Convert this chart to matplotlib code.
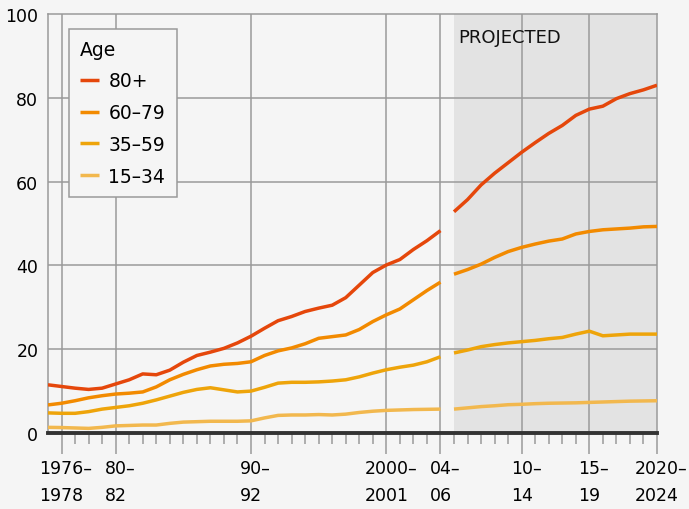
import matplotlib
matplotlib.use("Agg")
import matplotlib.pyplot as plt
from matplotlib.transforms import ScaledTranslation
from matplotlib.font_manager import FontProperties

# ---------------- data ----------------
years_hist = list(range(1975, 2005))
years_proj = list(range(2005, 2021))

age_80_hist = [11.5, 11.1, 10.7, 10.4, 10.7, 11.7, 12.7, 14.1, 13.9, 15.0,
               16.9, 18.5, 19.3, 20.2, 21.5, 23.1, 25.0, 26.8, 27.8, 29.0,
               29.8, 30.5, 32.3, 35.3, 38.3, 40.1, 41.4, 43.8, 45.9, 48.3]
age_60_hist = [6.7, 7.1, 7.7, 8.4, 8.9, 9.3, 9.5, 9.8, 11.0, 12.7,
               14.0, 15.1, 16.0, 16.4, 16.6, 17.0, 18.5, 19.6, 20.3, 21.3,
               22.6, 23.0, 23.4, 24.7, 26.6, 28.2, 29.6, 31.8, 34.0, 36.0]
age_35_hist = [4.8, 4.7, 4.7, 5.1, 5.7, 6.1, 6.5, 7.1, 7.9, 8.8,
               9.7, 10.4, 10.8, 10.3, 9.8, 10.0, 10.9, 11.9, 12.1, 12.1,
               12.2, 12.4, 12.7, 13.4, 14.3, 15.1, 15.7, 16.2, 17.0, 18.2]
age_15_hist = [1.35, 1.3, 1.2, 1.1, 1.35, 1.7, 1.8, 1.9, 1.9, 2.3,
               2.6, 2.7, 2.8, 2.8, 2.8, 2.9, 3.6, 4.2, 4.3, 4.3,
               4.4, 4.3, 4.5, 4.9, 5.2, 5.4, 5.5, 5.6, 5.65, 5.7]

age_80_proj = [52.8, 55.7, 59.2, 62.0, 64.5, 67.0, 69.3, 71.5,
               73.4, 75.8, 77.3, 78.0, 79.8, 81.0, 81.9, 83.0]
age_60_proj = [37.9, 39.0, 40.3, 41.9, 43.3, 44.3, 45.1, 45.8,
               46.3, 47.5, 48.1, 48.5, 48.7, 48.9, 49.2, 49.3]
age_35_proj = [19.1, 19.8, 20.6, 21.1, 21.5, 21.8, 22.1, 22.5,
               22.8, 23.6, 24.3, 23.2, 23.4, 23.6, 23.6, 23.6]
age_15_proj = [5.7, 6.0, 6.3, 6.5, 6.75, 6.85, 7.0, 7.1,
               7.15, 7.2, 7.3, 7.4, 7.5, 7.6, 7.65, 7.7]

series_labels = ["80+", "60\u201379", "35\u201359", "15\u201334"]
series_colors = ["#e5470b", "#f28a00", "#eea40a", "#f2b84e"]

tick_years = [1976, 1980, 1990, 2000, 2004, 2010, 2015, 2020]
tick_line1 = ["1976\u2013", "80\u2013", "90\u2013", "2000\u2013", "04\u2013", "10\u2013", "15\u2013", "2020\u2013"]
tick_line2 = ["1978", "82", "92", "2001", "06", "14", "19", "2024"]
minor_years = list(range(1976, 2020))
y_ticks = [0, 20, 40, 60, 80, 100]
proj_start, proj_end = 2005, 2020

# ---------------- figure ----------------
BG = "#f5f5f5"
GRID = "#9a9a9a"
FS = 12.5
fig = plt.figure(figsize=(6.89, 5.10), dpi=100, facecolor=BG)
ax = fig.add_axes([48/689, 1-434/510, (657-48)/689, (434-15)/510])
ax.set_facecolor(BG)
ax.set_xlim(1975, 2020)
ax.set_ylim(0, 100)

ax.axvspan(proj_start, proj_end, color="#e3e3e3", zorder=0.5, lw=0)

# grid
for yv in y_ticks[1:-1]:
    ax.axhline(yv, color=GRID, lw=1.1, zorder=1)
for xv in tick_years[:-1]:
    ax.axvline(xv, color=GRID, lw=1.1, zorder=1)

hist = [age_80_hist, age_60_hist, age_35_hist, age_15_hist]
proj = [age_80_proj, age_60_proj, age_35_proj, age_15_proj]
handles = []
for h, p, lab, col in zip(hist, proj, series_labels, series_colors):
    ln, = ax.plot(years_hist, h, color=col, lw=2.5, solid_capstyle="butt", zorder=3, label=lab)
    ax.plot(years_proj, p, color=col, lw=2.5, solid_capstyle="butt", zorder=3)
    handles.append(ln)

# spines
for s in ["left", "top", "right"]:
    ax.spines[s].set_color(GRID)
    ax.spines[s].set_linewidth(1.1)
ax.spines["bottom"].set_color("#333333")
ax.spines["bottom"].set_linewidth(2.8)
ax.spines["bottom"].set_zorder(4)

# y ticks
ax.set_yticks(y_ticks)
ax.set_yticklabels([str(v) for v in y_ticks])
ax.tick_params(axis="y", length=0, pad=7, labelsize=FS, labelcolor="black")

# x ticks
ax.set_xticks(tick_years)
ax.set_xticklabels([a + "\n" + b for a, b in zip(tick_line1, tick_line2)])
ax.set_xticks(minor_years, minor=True)
ax.tick_params(axis="x", which="major", length=15, width=1.1, color=GRID, pad=3.5,
               labelsize=FS, labelcolor="black")
ax.tick_params(axis="x", which="minor", length=8, width=1.1, color=GRID)

renderer = fig.canvas.get_renderer()
prop = FontProperties(family="DejaVu Sans", size=FS)
for lbl, l2 in zip(ax.get_xticklabels(), tick_line2):
    w2, _, _ = renderer.get_text_width_height_descent(l2, prop, ismath=False)
    lbl.set_horizontalalignment("left")
    lbl.set_multialignment("left")
    lbl.set_linespacing(1.7)
    lbl.set_transform(lbl.get_transform() + ScaledTranslation(-w2/2/fig.dpi, 0, fig.dpi_scale_trans))

# projected label
ax.text(2005.35, 96.6, "PROJECTED", fontsize=13, ha="left", va="top", color="#111111", zorder=5)

# legend
leg = ax.legend(handles=handles, labels=series_labels, title="Age", loc="upper left",
                bbox_to_anchor=(0.0345, 0.965), fontsize=13.5, title_fontsize=13.5,
                frameon=True, fancybox=False, handlelength=1.0, handletextpad=0.5,
                labelspacing=0.68, borderpad=0.6, borderaxespad=0)
leg._legend_box.align = "left"
leg._legend_box.sep = 9
frame = leg.get_frame()
frame.set_facecolor(BG)
frame.set_edgecolor(GRID)
frame.set_linewidth(1.1)
frame.set_alpha(1)
leg.set_zorder(6)

fig.savefig("out.png", dpi=100, facecolor=BG)
